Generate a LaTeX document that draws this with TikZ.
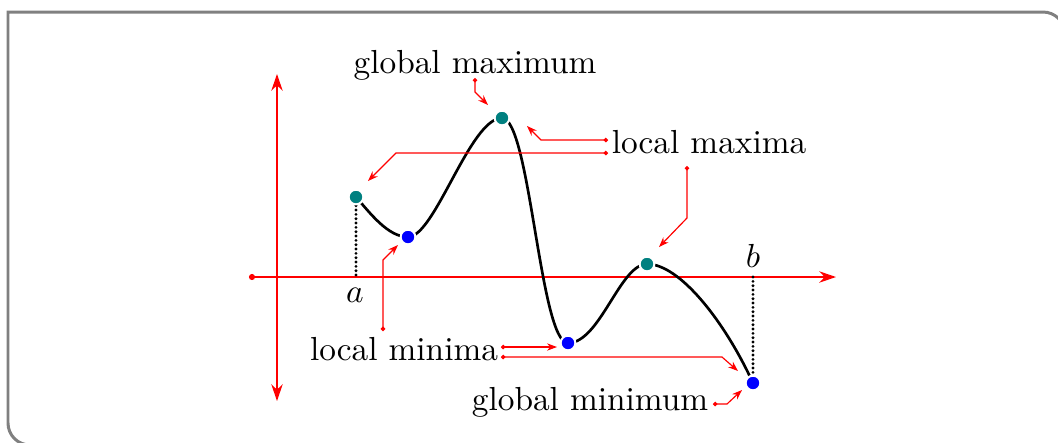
\documentclass[tikz,border=0pt]{standalone}
\usetikzlibrary{arrows.meta}
\definecolor{frameg}{RGB}{128,128,128}
\definecolor{tealc}{RGB}{0,128,128}
\begin{document}
\begin{tikzpicture}[x=0.3pt,y=-0.3pt,
  axis/.style={red,line width=0.6pt},
  ann/.style={red,line width=0.35pt,{Circle[length=1.3pt]}-{Stealth[length=3pt,width=2.2pt]}},
  maxdot/.style={circle,fill=tealc,draw=white,line width=0.6pt,minimum size=4.4pt,inner sep=0pt},
  mindot/.style={circle,fill=blue,draw=white,line width=0.6pt,minimum size=4.4pt,inner sep=0pt},
  lbl/.style={inner sep=0pt,anchor=base},
  curve/.style={black,line width=0.8pt},
  guide/.style={black,line width=0.95pt,line cap=round,dash pattern=on 0pt off 1.3pt}]
\useasboundingbox (0,0) rectangle (1058,442);
\clip (0,0) rectangle (1058,442);
% frame
\draw[frameg,line width=0.9pt] (1065,34) arc(0:-90:22) -- (8,12) -- (8,423) arc(180:90:22) -- (1100,445);
% axes
\coordinate (xs) at (249,277);
\coordinate (xe) at (836,277);
\coordinate (ys) at (277,401);
\coordinate (ye) at (277,74);
\draw[axis,{Circle[length=1.8pt]}-{Stealth[length=5pt,width=3.4pt,inset=1.6pt]}] (xs) -- (xe);
\draw[axis,{Stealth[length=5pt,width=3.4pt,inset=1.6pt]}-{Stealth[length=5pt,width=3.4pt,inset=1.6pt]}] (ys) -- (ye);
% points
\coordinate (P1) at (356,197);
\coordinate (P2) at (408,237);
\coordinate (P3) at (502,118);
\coordinate (P4) at (568,343);
\coordinate (P5) at (647,264);
\coordinate (P6) at (753,383);
\coordinate (A) at (356,277);
\coordinate (B) at (753,277);
\draw[guide] (P1) -- (A);
\draw[guide] (B) -- (P6);
\draw[curve] (P1) .. controls (370,213) and (388,237) .. (P2)
  .. controls (435,237) and (470,118) .. (P3)
  .. controls (530,118) and (540,343) .. (P4)
  .. controls (600,343) and (620,264) .. (P5)
  .. controls (680,264) and (725,322) .. (P6);
\node[maxdot] (n1) at (P1) {};
\node[mindot] (n2) at (P2) {};
\node[maxdot] (n3) at (P3) {};
\node[mindot] (n4) at (P4) {};
\node[maxdot] (n5) at (P5) {};
\node[mindot] (n6) at (P6) {};
\node (la) at (355,295) {$a$};
\node (lb) at (753,256) {$b$};
% labels
\node[lbl] (gmax) at (475,73) {global maximum};
\node[lbl] (lmax) at (709,153) {local maxima};
\node[lbl] (lmin) at (404,360) {local minima};
\node[lbl] (gmin) at (590,410) {global minimum};
% annotation connectors
\coordinate (s1) at (475,78);   \coordinate (t1) at (488,105);
\draw[ann] (s1) -- (475,92) -- (t1);
\coordinate (s2) at (608,140);  \coordinate (t2) at (527,126);
\draw[ann] (s2) -- (541,140) -- (t2);
\coordinate (s3) at (608,153);  \coordinate (t3) at (368,181);
\draw[ann] (s3) -- (396,153) -- (t3);
\coordinate (s4) at (687,166);  \coordinate (t4) at (659,247);
\draw[ann] (s4) -- (687,218) -- (t4);
\coordinate (s5) at (383,331);  \coordinate (t5) at (398,245);
\draw[ann] (s5) -- (383,260) -- (t5);
\coordinate (s6) at (501,347);  \coordinate (t6) at (557,347);
\draw[ann] (s6) -- (t6);
\coordinate (s7) at (501,357);  \coordinate (t7) at (738,371);
\draw[ann] (s7) -- (722,357) -- (t7);
\coordinate (s8) at (713,404);  \coordinate (t8) at (742,390);
\draw[ann] (s8) -- (727,404) -- (t8);
\end{tikzpicture}
\end{document}
